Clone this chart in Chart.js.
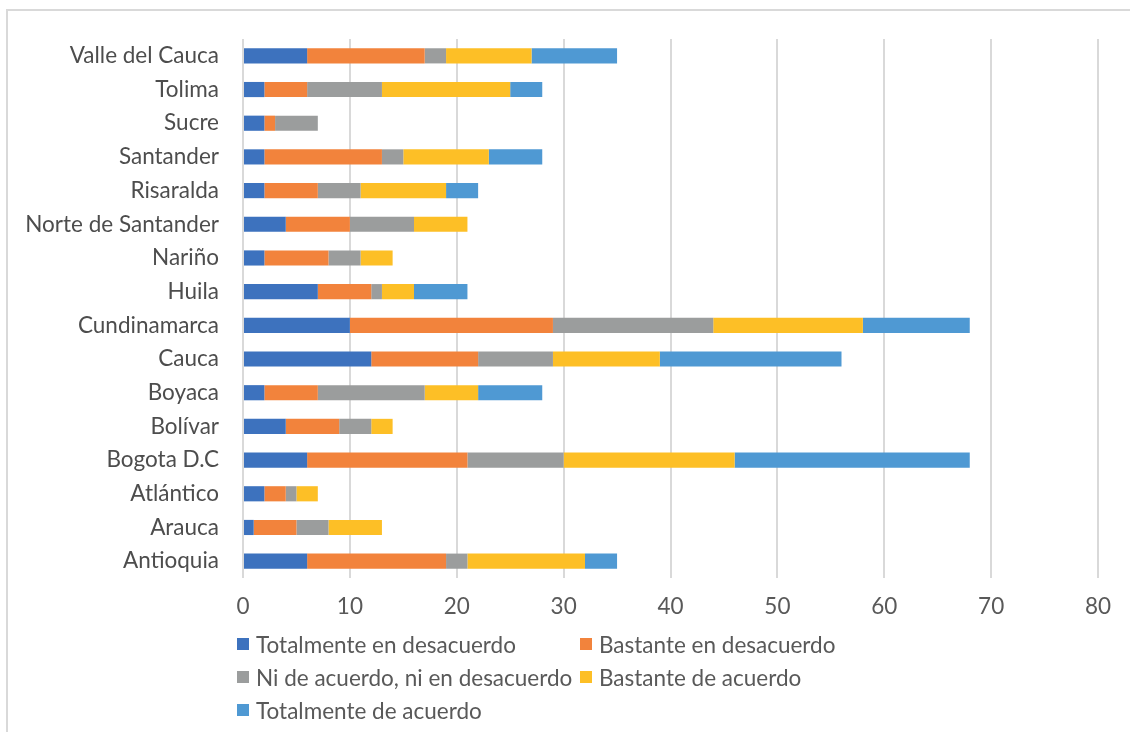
<!DOCTYPE html>
<html>
<head>
<meta charset="utf-8">
<script src="https://cdn.jsdelivr.net/npm/chart.js@4"></script>
<style>
    html, body { margin: 0; padding: 0; background: #fff; }
    #wrap { position: relative; width: 1130px; height: 732px; overflow: hidden; }
    #frame { position: absolute; left: 6px; top: 9px; width: 1140px; height: 760px; border: 2px solid #d9d9d9; }
    canvas { position: absolute; left: 0; top: 0; }
    #legend { position: absolute; left: 237px; top: 630px; display: grid; grid-template-columns: 343px 300px; row-gap: 5px;
              font-family: Lato, sans-serif; font-size: 22.5px; color: #595959; }
    .item { display: flex; align-items: center; height: 28px; white-space: nowrap; }
    .box { width: 12px; height: 12px; margin-right: 7px; flex: none; }
</style>
</head>
<body>
<div id="wrap">
    <div id="frame"></div>
    <canvas id="chart" width="1130" height="732"></canvas>
    <div id="legend"></div>
</div>
<script>
// ===== Data (bottom to top, as in the sheet) =====
const departments = ['Antioquia', 'Arauca', 'Atlántico', 'Bogota D.C', 'Bolívar', 'Boyaca', 'Cauca',
    'Cundinamarca', 'Huila', 'Nariño', 'Norte de Santander', 'Risaralda', 'Santander', 'Sucre', 'Tolima', 'Valle del Cauca'];

const totalDesacuerdo   = [6, 1, 2, 6, 4, 2, 12, 10, 7, 2, 4, 2, 2, 2, 2, 6];
const bastanteDesacuerdo = [13, 4, 2, 15, 5, 5, 10, 19, 5, 6, 6, 5, 11, 1, 4, 11];
const niNi              = [2, 3, 1, 9, 3, 10, 7, 15, 1, 3, 6, 4, 2, 4, 7, 2];
const bastanteAcuerdo   = [11, 5, 2, 16, 2, 5, 10, 14, 3, 3, 5, 8, 8, 0, 12, 8];
const totalAcuerdo      = [3, 0, 0, 22, 0, 6, 17, 10, 5, 0, 0, 3, 5, 0, 3, 8];

const xTicks = [0, 10, 20, 30, 40, 50, 60, 70, 80];

const seriesNames = ['Totalmente en desacuerdo', 'Bastante en desacuerdo', 'Ni de acuerdo, ni en desacuerdo',
    'Bastante de acuerdo', 'Totalmente de acuerdo'];
const seriesColors = ['#3d72be', '#f2833c', '#9b9d9d', '#fdbf26', '#4f99d3'];
const seriesData = [totalDesacuerdo, bastanteDesacuerdo, niNi, bastanteAcuerdo, totalAcuerdo];

const FONT = 'Lato, sans-serif';

const ctx = document.getElementById('chart').getContext('2d');
const chart = new Chart(ctx, {
    type: 'bar',
    data: {
        labels: departments,
        datasets: seriesNames.map((name, i) => ({
            label: name,
            data: seriesData[i],
            backgroundColor: seriesColors[i],
            borderWidth: 0,
            barPercentage: 0.9,
            categoryPercentage: 0.5
        }))
    },
    options: {
        indexAxis: 'y',
        responsive: false,
        animation: false,
        layout: { padding: { top: 39, right: 32, left: 0, bottom: 0 } },
        plugins: { legend: { display: false }, tooltip: { enabled: false } },
        scales: {
            x: {
                stacked: true,
                min: 0,
                max: 80,
                afterBuildTicks: (scale) => { scale.ticks = xTicks.map(v => ({ value: v })); },
                afterFit: (scale) => { scale.height = 154; },
                grid: { color: '#d9d9d9', lineWidth: 2, drawTicks: false },
                border: { display: false },
                ticks: { color: '#595959', padding: 15, font: { family: FONT, size: 22.5 } }
            },
            y: {
                stacked: true,
                reverse: true,
                afterFit: (scale) => { scale.width = 243; },
                grid: { display: false, drawTicks: false },
                border: { display: false },
                ticks: { color: '#4d4d4d', padding: 24, autoSkip: false, font: { family: FONT, size: 22.5 } }
            }
        }
    }
});

// ===== HTML legend, two columns like the original =====
const legendEl = document.getElementById('legend');
chart.data.datasets.forEach(ds => {
    const item = document.createElement('div');
    item.className = 'item';
    const box = document.createElement('span');
    box.className = 'box';
    box.style.background = ds.backgroundColor;
    const txt = document.createElement('span');
    txt.textContent = ds.label;
    item.appendChild(box);
    item.appendChild(txt);
    legendEl.appendChild(item);
});
</script>
</body>
</html>
